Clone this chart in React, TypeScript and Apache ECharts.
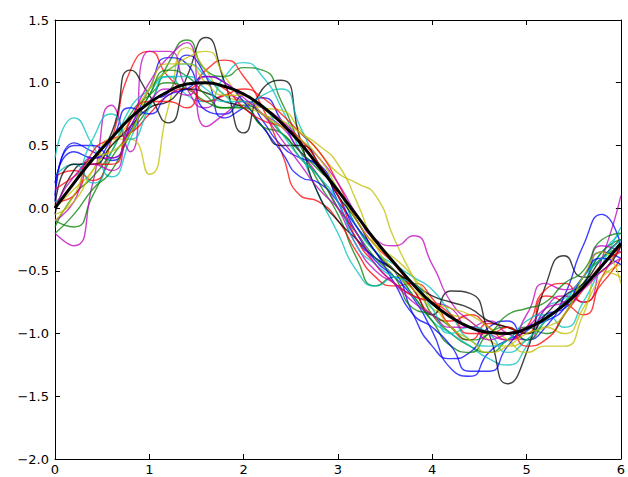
import React, { useEffect, useRef } from "react";
import * as echarts from "echarts";

const xs = [0, 0.2, 0.4, 0.6, 0.8, 1.0, 1.2, 1.4, 1.6, 1.8, 2.0, 2.2, 2.4, 2.6, 2.8, 3.0, 3.2, 3.4, 3.6, 3.8, 4.0, 4.2, 4.4, 4.6, 4.8, 5.0, 5.2, 5.4, 5.6, 5.8, 6.0];

const meanCurve = [0.0, 0.2, 0.39, 0.56, 0.72, 0.84, 0.93, 0.99, 1.0, 0.97, 0.91, 0.81, 0.68, 0.52, 0.33, 0.14, -0.06, -0.26, -0.44, -0.61, -0.76, -0.87, -0.95, -0.99, -1.0, -0.96, -0.88, -0.77, -0.63, -0.46, -0.28];

const sample01 = [0.05, 0.52, 0.45, 0.38, 0.62, 0.85, 0.92, 1.22, 1.05, 0.72, 0.8, 0.88, 0.7, 0.45, 0.32, 0.1, -0.2, -0.42, -0.55, -0.72, -0.98, -1.28, -1.34, -1.15, -1.05, -0.98, -0.85, -0.8, -0.62, -0.35, -0.4];
const sample02 = [-0.1, -0.15, 0.1, 0.4, 0.6, 0.82, 1.15, 1.34, 1.1, 1.05, 1.12, 1.1, 0.85, 0.5, 0.2, -0.05, -0.4, -0.62, -0.55, -0.6, -0.85, -1.0, -1.1, -1.15, -1.05, -0.95, -1.0, -0.85, -0.55, -0.4, -0.3];
const sample03 = [0.25, 0.3, 0.22, 0.55, 1.1, 1.25, 1.05, 0.95, 1.1, 1.18, 1.05, 0.8, 0.45, 0.1, 0.05, -0.1, -0.35, -0.55, -0.62, -0.6, -0.72, -0.95, -1.05, -0.92, -0.95, -1.0, -0.7, -0.75, -0.85, -0.55, -0.3];
const sample04 = [0.4, 0.72, 0.5, 0.25, 0.55, 0.9, 1.05, 0.9, 0.85, 1.05, 1.16, 1.05, 0.8, 0.45, 0.1, -0.2, -0.5, -0.62, -0.55, -0.7, -0.9, -1.0, -1.1, -1.2, -1.25, -1.1, -0.8, -0.72, -0.55, -0.35, -0.2];
const sample05 = [-0.2, -0.3, 0.2, 0.82, 0.45, 1.25, 1.25, 0.95, 0.8, 0.9, 0.85, 0.75, 0.65, 0.45, 0.25, 0.0, -0.3, -0.5, -0.6, -0.7, -0.75, -0.8, -0.95, -0.9, -1.0, -1.05, -0.8, -0.7, -0.75, -0.4, 0.1];
const sample06 = [0.0, 0.15, 0.3, 0.55, 0.55, 0.27, 0.8, 1.28, 1.1, 0.9, 0.85, 0.8, 0.78, 0.62, 0.45, 0.28, 0.2, 0.1, -0.25, -0.55, -0.8, -0.85, -0.9, -1.05, -1.1, -1.05, -0.95, -1.0, -0.8, -0.55, -0.45];
const sample07 = [-0.05, 0.3, 0.4, 0.6, 1.1, 0.9, 0.68, 1.05, 1.36, 1.0, 0.6, 0.95, 1.02, 0.55, 0.1, -0.1, -0.25, -0.4, -0.5, -0.65, -0.85, -0.66, -0.68, -1.0, -1.4, -1.15, -0.62, -0.38, -0.55, -0.5, -0.3];
const sample08 = [0.1, 0.5, 0.5, 0.4, 0.65, 0.95, 1.2, 1.15, 0.78, 0.75, 0.9, 0.7, 0.5, 0.4, 0.35, 0.05, -0.25, -0.4, -0.5, -0.85, -1.1, -1.2, -1.15, -0.95, -0.9, -1.05, -0.95, -0.7, -0.3, -0.05, -0.3];
const sample09 = [-0.15, 0.1, 0.25, 0.45, 0.75, 0.9, 1.0, 0.95, 0.85, 0.8, 0.82, 0.75, 0.6, 0.45, 0.3, 0.15, -0.15, -0.35, -0.5, -0.7, -0.9, -1.1, -1.15, -1.0, -0.95, -1.05, -0.9, -0.75, -0.6, -0.35, -0.25];
const sample10 = [0.05, 0.1, 0.45, 0.55, 0.6, 0.75, 0.9, 0.95, 0.85, 0.9, 0.95, 0.88, 0.75, 0.6, 0.45, 0.2, -0.1, -0.3, -0.45, -0.65, -0.85, -0.9, -0.85, -0.95, -1.05, -0.95, -0.65, -0.6, -0.75, -0.6, -0.4];
const sample11 = [0.25, 0.35, 0.2, 0.45, 0.8, 0.95, 1.1, 1.15, 1.05, 0.9, 0.8, 0.9, 0.95, 0.65, 0.35, 0.15, -0.15, -0.35, -0.45, -0.55, -0.65, -0.85, -1.05, -1.1, -1.05, -0.9, -0.85, -0.95, -0.75, -0.45, -0.15];
const sample12 = [-0.1, 0.05, 0.4, 0.4, 0.7, 1.0, 1.2, 1.32, 0.65, 0.75, 0.85, 0.8, 0.7, 0.55, 0.4, 0.2, -0.05, -0.25, -0.3, -0.22, -0.45, -0.75, -0.9, -1.0, -1.05, -0.85, -0.6, -0.65, -0.55, -0.3, -0.35];
const sample13 = [-0.05, 0.05, 0.3, 0.5, 0.7, 0.95, 1.1, 1.2, 1.25, 1.05, 0.85, 0.75, 0.7, 0.6, 0.5, 0.35, 0.05, -0.3, -0.5, -0.65, -0.75, -0.8, -0.85, -0.95, -1.05, -1.15, -1.1, -1.1, -0.85, -0.5, -0.55];
const sample14 = [0.0, 0.35, 0.35, 0.5, 0.65, 0.8, 0.85, 0.95, 0.92, 0.85, 0.8, 0.65, 0.5, 0.5, 0.35, 0.1, -0.1, -0.35, -0.5, -0.6, -0.7, -0.75, -0.8, -0.9, -0.95, -1.0, -0.85, -0.7, -0.6, -0.4, -0.25];
const sample15 = [0.2, 0.45, 0.4, 0.55, 0.8, 0.75, 0.9, 0.95, 1.05, 1.0, 0.85, 0.65, 0.45, 0.25, 0.2, 0.05, -0.15, -0.35, -0.6, -0.85, -0.95, -1.1, -1.3, -1.3, -1.1, -0.95, -0.9, -0.8, -0.55, -0.4, -0.45];
const sample16 = [-0.2, -0.05, 0.15, 0.3, 0.6, 0.9, 1.1, 1.05, 0.9, 0.8, 0.8, 0.65, 0.6, 0.4, 0.25, 0.0, -0.2, -0.4, -0.55, -0.8, -0.85, -0.95, -1.05, -1.0, -0.85, -0.8, -0.75, -0.6, -0.5, -0.25, -0.2];
const sample17 = [0.15, 0.25, 0.35, 0.35, 0.7, 0.85, 0.85, 0.8, 1.0, 0.95, 0.8, 0.7, 0.65, 0.55, 0.35, 0.1, -0.25, -0.45, -0.6, -0.7, -0.75, -0.85, -1.0, -1.0, -0.95, -1.1, -1.05, -0.85, -0.65, -0.45, -0.35];
const sample18 = [0.05, 0.2, 0.55, 0.75, 0.55, 0.8, 1.05, 1.05, 0.95, 0.85, 0.85, 0.8, 0.6, 0.4, 0.25, 0.05, -0.3, -0.45, -0.55, -0.6, -0.8, -1.0, -0.95, -1.0, -1.15, -1.05, -0.9, -0.75, -0.55, -0.4, -0.25];
const sample19 = [0.0, 0.25, 0.35, 0.3, 0.65, 0.85, 0.95, 0.9, 1.05, 1.0, 0.88, 0.75, 0.55, 0.35, 0.15, 0.0, -0.2, -0.45, -0.6, -0.75, -0.85, -0.95, -0.95, -1.05, -1.0, -0.95, -0.8, -0.75, -0.65, -0.5, -0.4];
const sample20 = [-0.1, 0.1, 0.4, 0.45, 0.6, 0.95, 1.15, 1.15, 1.0, 0.9, 0.9, 0.75, 0.65, 0.55, 0.4, 0.15, -0.1, -0.3, -0.4, -0.55, -0.75, -0.95, -1.05, -1.15, -1.1, -1.0, -0.95, -0.85, -0.55, -0.35, -0.6];

const samples = [sample01, sample02, sample03, sample04, sample05, sample06, sample07, sample08, sample09, sample10, sample11, sample12, sample13, sample14, sample15, sample16, sample17, sample18, sample19, sample20];

const xTicks = [0, 1, 2, 3, 4, 5, 6];
const yTicks = [-2.0, -1.5, -1.0, -0.5, 0.0, 0.5, 1.0, 1.5];

const cycle = ["#0000ff", "#008000", "#ff0000", "#00bfbf", "#bf00bf", "#bfbf00", "#000000"];

const fmtY = (v: number) => v.toFixed(1).replace("-", "\u2212");

export default function App() {
  const ref = useRef<HTMLDivElement>(null);
  useEffect(() => {
    if (!ref.current) return;
    const chart = echarts.init(ref.current, undefined, { renderer: "svg" });
    const axisLabel = { color: "#000", fontFamily: "DejaVu Sans", fontSize: 13 };
    const tick = { show: true, inside: true, length: 5, lineStyle: { color: "#000", width: 1 } };
    const line = { show: true, onZero: false, lineStyle: { color: "#000", width: 1 } };
    const series: any[] = samples.map((s, i) => ({
      type: "line",
      data: xs.map((x, j) => [x, s[j]]),
      smooth: 0.6,
      showSymbol: false,
      symbol: "none",
      lineStyle: { color: cycle[i % cycle.length], width: 1.4, opacity: 0.75 },
      z: 2,
    }));
    series.push({
      type: "line",
      data: xs.map((x, j) => [x, meanCurve[j]]),
      smooth: 0.5,
      showSymbol: false,
      symbol: "none",
      lineStyle: { color: "#000", width: 3 },
      z: 3,
    });
    chart.setOption({
      animation: false,
      backgroundColor: "#fff",
      grid: { left: 55, right: 7, top: 20, bottom: 18, containLabel: false },
      xAxis: [
        {
          type: "value", min: xTicks[0], max: xTicks[xTicks.length - 1], interval: 1,
          axisLine: line, axisTick: tick, splitLine: { show: false },
          axisLabel: { ...axisLabel, margin: 4 },
        },
        {
          type: "value", position: "top", min: xTicks[0], max: xTicks[xTicks.length - 1], interval: 1,
          axisLine: line, axisTick: tick, splitLine: { show: false }, axisLabel: { show: false },
        },
      ],
      yAxis: [
        {
          type: "value", min: yTicks[0], max: yTicks[yTicks.length - 1], interval: 0.5,
          axisLine: line, axisTick: tick, splitLine: { show: false },
          axisLabel: { ...axisLabel, margin: 6, formatter: fmtY },
        },
        {
          type: "value", position: "right", min: yTicks[0], max: yTicks[yTicks.length - 1], interval: 0.5,
          axisLine: line, axisTick: tick, splitLine: { show: false }, axisLabel: { show: false },
        },
      ],
      series,
    });
    return () => chart.dispose();
  }, []);
  return <div ref={ref} style={{ width: 628, height: 477, position: "absolute", left: 0, top: 0 }} />;
}
